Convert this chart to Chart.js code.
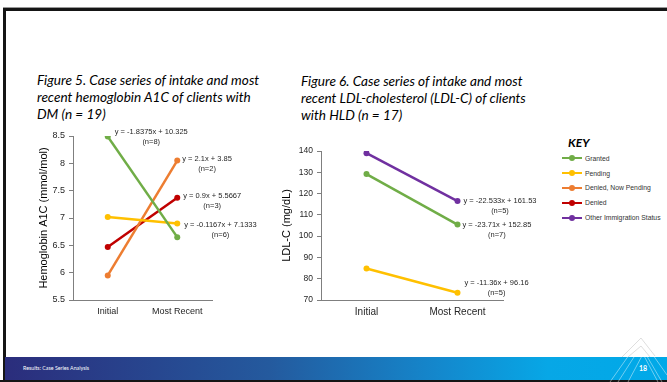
<!DOCTYPE html>
<html>
<head>
<meta charset="utf-8">
<script src="https://cdn.jsdelivr.net/npm/chart.js"></script>
<style>
body{margin:0;width:667px;height:382px;position:relative;overflow:hidden;background:#fff;font-family:"Liberation Sans",Arial,sans-serif;}
.abs{position:absolute;}
.title{font-family:Lato,"Noto Sans",sans-serif;font-style:italic;font-size:13.6px;line-height:17px;color:#000;white-space:nowrap;}
#key{left:562px;top:135px;}
#key .hd{font-family:Lato,sans-serif;font-weight:bold;font-style:italic;font-size:12px;margin-left:6px;height:16px;}
#key .row{height:14.8px;display:flex;align-items:center;font-size:6.8px;color:#333;}
#key .sw{width:20px;height:2px;position:relative;margin-right:3px;}
#key .sw i{position:absolute;left:7px;top:-2px;width:6px;height:6px;border-radius:3px;}
#footer{left:5px;top:357px;width:662px;height:23px;background:linear-gradient(90deg,#2b2d7c 0%,#245a9e 40%,#1487cc 65%,#07a7e6 82%,#00a9e8 100%);}
</style>
</head>
<body>
<div class="abs" style="left:3px;top:7px;width:664px;height:1px;background:#999"></div>
<div class="abs" style="left:3px;top:8px;width:664px;height:3px;background:#151515"></div>
<div class="abs" style="left:3px;top:8px;width:3px;height:374px;background:#151515"></div>

<div class="abs title" style="left:37px;top:72px">Figure 5. Case series of intake and most<br>recent hemoglobin A1C of clients with<br>DM (n = 19)</div>
<div class="abs title" style="left:301px;top:73px">Figure 6. Case series of intake and most<br>recent LDL-cholesterol (LDL-C) of clients<br>with HLD (n = 17)</div>

<canvas id="c1" class="abs" style="left:30px;top:124px" width="240" height="202"></canvas>
<canvas id="c2" class="abs" style="left:280px;top:138px" width="280" height="188"></canvas>

<div id="key" class="abs"></div>

<div id="footer" class="abs"></div>
<div class="abs" style="left:0;top:380px;width:667px;height:2px;background:#151515"></div>
<svg class="abs" style="left:600px;top:320px" width="67" height="62">
  <g stroke="#ffffff" stroke-opacity="0.55" stroke-width="0.8" fill="none">
    <polyline points="10,62 41,18 67,55"/>
    <polyline points="18,62 41,26 62,62"/>
    <polyline points="28,62 43,34 58,62"/>
  </g>
  <g stroke="#c8c8c8" stroke-width="0.6" fill="none">
    <polyline points="22,37 41,18 55,36"/>
    <polyline points="28,37 41,26 50,37"/>
  </g>
</svg>
<div class="abs" style="left:23px;top:365px;font-family:Lato,sans-serif;font-size:5.3px;color:#fff">Results: Case Series Analysis</div>
<div class="abs" style="left:639px;top:364px;font-family:Lato,sans-serif;font-size:7px;font-weight:bold;color:#fff">18</div>

<script>
var categories = ['Initial', 'Most Recent'];
var seriesNames = ['Granted', 'Pending', 'Denied, Now Pending', 'Denied', 'Other Immigration Status'];
var seriesColors = ['#70ad47', '#ffc000', '#ed7d31', '#c00000', '#7030a0'];

// Figure 5 - hemoglobin A1C
var a1cGranted = [8.49, 6.65];
var a1cPending = [7.02, 6.90];
var a1cDeniedNowPending = [5.95, 8.05];
var a1cDenied = [6.47, 7.37];
var a1cEquations = ['y = -1.8375x + 10.325', 'y = -0.1167x + 7.1333', 'y = 2.1x + 3.85', 'y = 0.9x + 5.5667'];
var a1cCounts = ['(n=8)', '(n=6)', '(n=2)', '(n=3)'];
var a1cTicks = [5.5, 8.5, 0.5];

// Figure 6 - LDL-C
var ldlGranted = [129.14, 105.43];
var ldlPending = [84.8, 73.44];
var ldlOther = [139.0, 116.47];
var ldlEquations = ['y = -23.71x + 152.85', 'y = -11.36x + 96.16', 'y = -22.533x + 161.53'];
var ldlCounts = ['(n=7)', '(n=5)', '(n=5)'];
var ldlTicks = [70, 140, 10];

Chart.defaults.font.family = '"Liberation Sans", Arial, sans-serif';
Chart.defaults.color = '#404040';

// where each equation label sits next to its point
var labelPlace1 = [{pt:0, dx:7, dy:-5}, {pt:1, dx:7, dy:1}, {pt:1, dx:5, dy:-2}, {pt:1, dx:6, dy:-2}];
var labelPlace2 = [{pt:1, dx:5, dy:0}, {pt:1, dx:7, dy:-10}, {pt:1, dx:6, dy:0}];

var eqPlugin = {
    id: 'eqLabels',
    afterDatasetsDraw: function(chart, args, opts){
        var ctx = chart.ctx;
        ctx.save();
        ctx.font = '7.5px "Liberation Sans", Arial';
        ctx.fillStyle = '#262626';
        ctx.textBaseline = 'middle';
        ctx.textAlign = 'center';
        for (var i in opts.eq){
            var p = opts.place[i];
            var el = chart.getDatasetMeta(i).data[p.pt];
            var w = ctx.measureText(opts.eq[i]).width;
            var cx = el.x + p.dx + w/2;
            ctx.fillText(opts.eq[i], cx, el.y + p.dy);
            ctx.fillText(opts.n[i], cx, el.y + p.dy + 10);
        }
        ctx.restore();
    }
};

function ds(label, data, color){
    return {
        label: label,
        data: data,
        borderColor: color,
        backgroundColor: color,
        borderWidth: 2.5,
        pointRadius: 3,
        pointBorderWidth: 0,
        pointBackgroundColor: color,
        lineTension: 0,
        fill: false
    };
}

function axes(tk, yTitle, yWidth, titlePad, yFont, xFont){
    return {
        x: {
            offset: true,
            grid: {display: true, drawOnChartArea: false, drawTicks: false, color: '#7f7f7f'},
            border: {color: '#7f7f7f', width: 1},
            ticks: {padding: 6, color: '#262626', font: {size: xFont}},
            afterFit: function(s){ s.height = 26; }
        },
        y: {
            min: tk[0], max: tk[1],
            grid: {display: true, drawOnChartArea: false, tickLength: 4, color: '#7f7f7f'},
            border: {color: '#7f7f7f', width: 1},
            ticks: {stepSize: tk[2], padding: 4, color: '#262626', font: {size: yFont},
                callback: function(v){ return String(v); }},
            title: {display: true, text: yTitle, color: '#000', font: {size: 11}, padding: {top: titlePad, bottom: 0}},
            afterFit: function(s){ s.width = yWidth; }
        }
    };
}

new Chart(document.getElementById('c1'), {
    type: 'line',
    data: {
        labels: categories,
        datasets: [
            ds(seriesNames[0], a1cGranted, seriesColors[0]),
            ds(seriesNames[1], a1cPending, seriesColors[1]),
            ds(seriesNames[2], a1cDeniedNowPending, seriesColors[2]),
            ds(seriesNames[3], a1cDenied, seriesColors[3])
        ]
    },
    options: {
        responsive: false,
        animation: false,
        layout: {padding: {top: 12, right: 58, left: 0, bottom: 0}},
        plugins: {
            legend: {display: false},
            tooltip: {enabled: false},
            eqLabels: {eq: a1cEquations, n: a1cCounts, place: labelPlace1}
        },
        scales: axes(a1cTicks, 'Hemoglobin A1C (mmol/mol)', 43, 7, 9, 9)
    },
    plugins: [eqPlugin]
});

new Chart(document.getElementById('c2'), {
    type: 'line',
    data: {
        labels: categories,
        datasets: [
            ds(seriesNames[0], ldlGranted, seriesColors[0]),
            ds(seriesNames[1], ldlPending, seriesColors[1]),
            ds(seriesNames[4], ldlOther, seriesColors[4])
        ]
    },
    options: {
        responsive: false,
        animation: false,
        layout: {padding: {top: 13, right: 57, left: 0, bottom: 0}},
        plugins: {
            legend: {display: false},
            tooltip: {enabled: false},
            eqLabels: {eq: ldlEquations, n: ldlCounts, place: labelPlace2}
        },
        scales: axes(ldlTicks, 'LDL-C (mg/dL)', 41, 0, 8.5, 10)
    },
    plugins: [eqPlugin]
});

// key
var key = document.getElementById('key');
var html = '<div class="hd">KEY</div>';
for (var i in seriesNames){
    html += '<div class="row"><div class="sw" style="background:' + seriesColors[i] + '"><i style="background:' + seriesColors[i] + '"></i></div>' + seriesNames[i] + '</div>';
}
key.innerHTML = html;
</script>
</body>
</html>
